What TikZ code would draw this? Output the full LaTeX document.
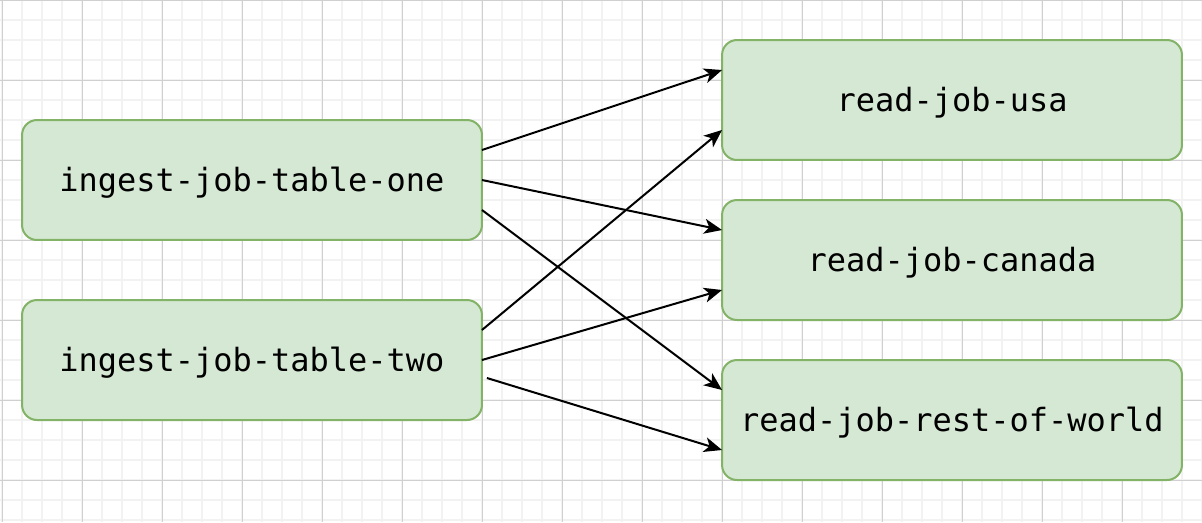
\documentclass[tikz,border=0pt]{standalone}
\usepackage{fontspec}
\newfontfamily\jobfont{DejaVu Sans Mono}
\usetikzlibrary{arrows.meta}
\definecolor{jobfill}{HTML}{D5E8D4}
\definecolor{jobborder}{HTML}{82B366}
\definecolor{gridmajor}{HTML}{D0D0D0}
\definecolor{gridminor}{HTML}{F2F2F2}

\begin{document}
\begin{tikzpicture}[x=0.02cm,y=-0.02cm]
    % Stili per i job e le frecce
    \tikzset{
        job_box/.style={
            draw=jobborder, % Bordo verde
            fill=jobfill, % Sfondo
            line width=0.04cm,
            rounded corners=0.3cm,
            minimum width=9.2cm, % Larghezza del box
            minimum height=2.4cm, % Altezza del box
            align=center, % Testo centrato
            font=\jobfont\fontsize{18.2}{22}\selectfont, % Font monospazio
            text height=13.8pt, % Altezza fissa del testo
            text depth=1pt,
            outer sep=0pt,
            inner sep=0.2em
        },
        job_arrow/.style={
            -{Stealth[length=0.36cm,width=0.3cm,inset=0.1cm]},
            line width=0.04cm
        },
        grid_minor/.style={draw=gridminor, line width=0.03cm},
        grid_major/.style={draw=gridmajor, line width=0.02cm}
    }

    \useasboundingbox (0,0) rectangle (1202,522);

    % Griglia di sfondo
    \foreach \gx in {2,22,...,1202} \draw[grid_minor] (\gx,0) -- (\gx,522);
    \foreach \gy in {0,20,...,520} \draw[grid_minor] (0,\gy) -- (1202,\gy);
    \foreach \gx in {2,82,...,1202} \draw[grid_major] (\gx,0) -- (\gx,522);
    \foreach \gy in {0,80,...,520} \draw[grid_major] (0,\gy) -- (1202,\gy);

    % Job di ingestione
    \node[job_box] (ingest_one) at (252,180) {ingest-job-table-one};
    \node[job_box] (ingest_two) at (252,360) {ingest-job-table-two};

    % Job di lettura
    \node[job_box] (read_usa) at (952,100) {read-job-usa};
    \node[job_box] (read_canada) at (952,260) {read-job-canada};
    \node[job_box] (read_rest) at (952,420) {read-job-rest-of-world};

    % Frecce dal primo job
    \draw[job_arrow] ([yshift=0.6cm]ingest_one.east) -- ([yshift=0.6cm]read_usa.west);
    \draw[job_arrow] (ingest_one.east) -- ([yshift=0.6cm]read_canada.west);
    \draw[job_arrow] ([yshift=-0.6cm]ingest_one.east) -- ([yshift=0.6cm]read_rest.west);

    % Frecce dal secondo job
    \draw[job_arrow] ([yshift=0.6cm]ingest_two.east) -- ([yshift=-0.6cm]read_usa.west);
    \draw[job_arrow] (ingest_two.east) -- ([yshift=-0.6cm]read_canada.west);
    \draw[job_arrow] ([xshift=0.1cm,yshift=-0.36cm]ingest_two.east) -- ([yshift=-0.6cm]read_rest.west);

\end{tikzpicture}
\end{document}
